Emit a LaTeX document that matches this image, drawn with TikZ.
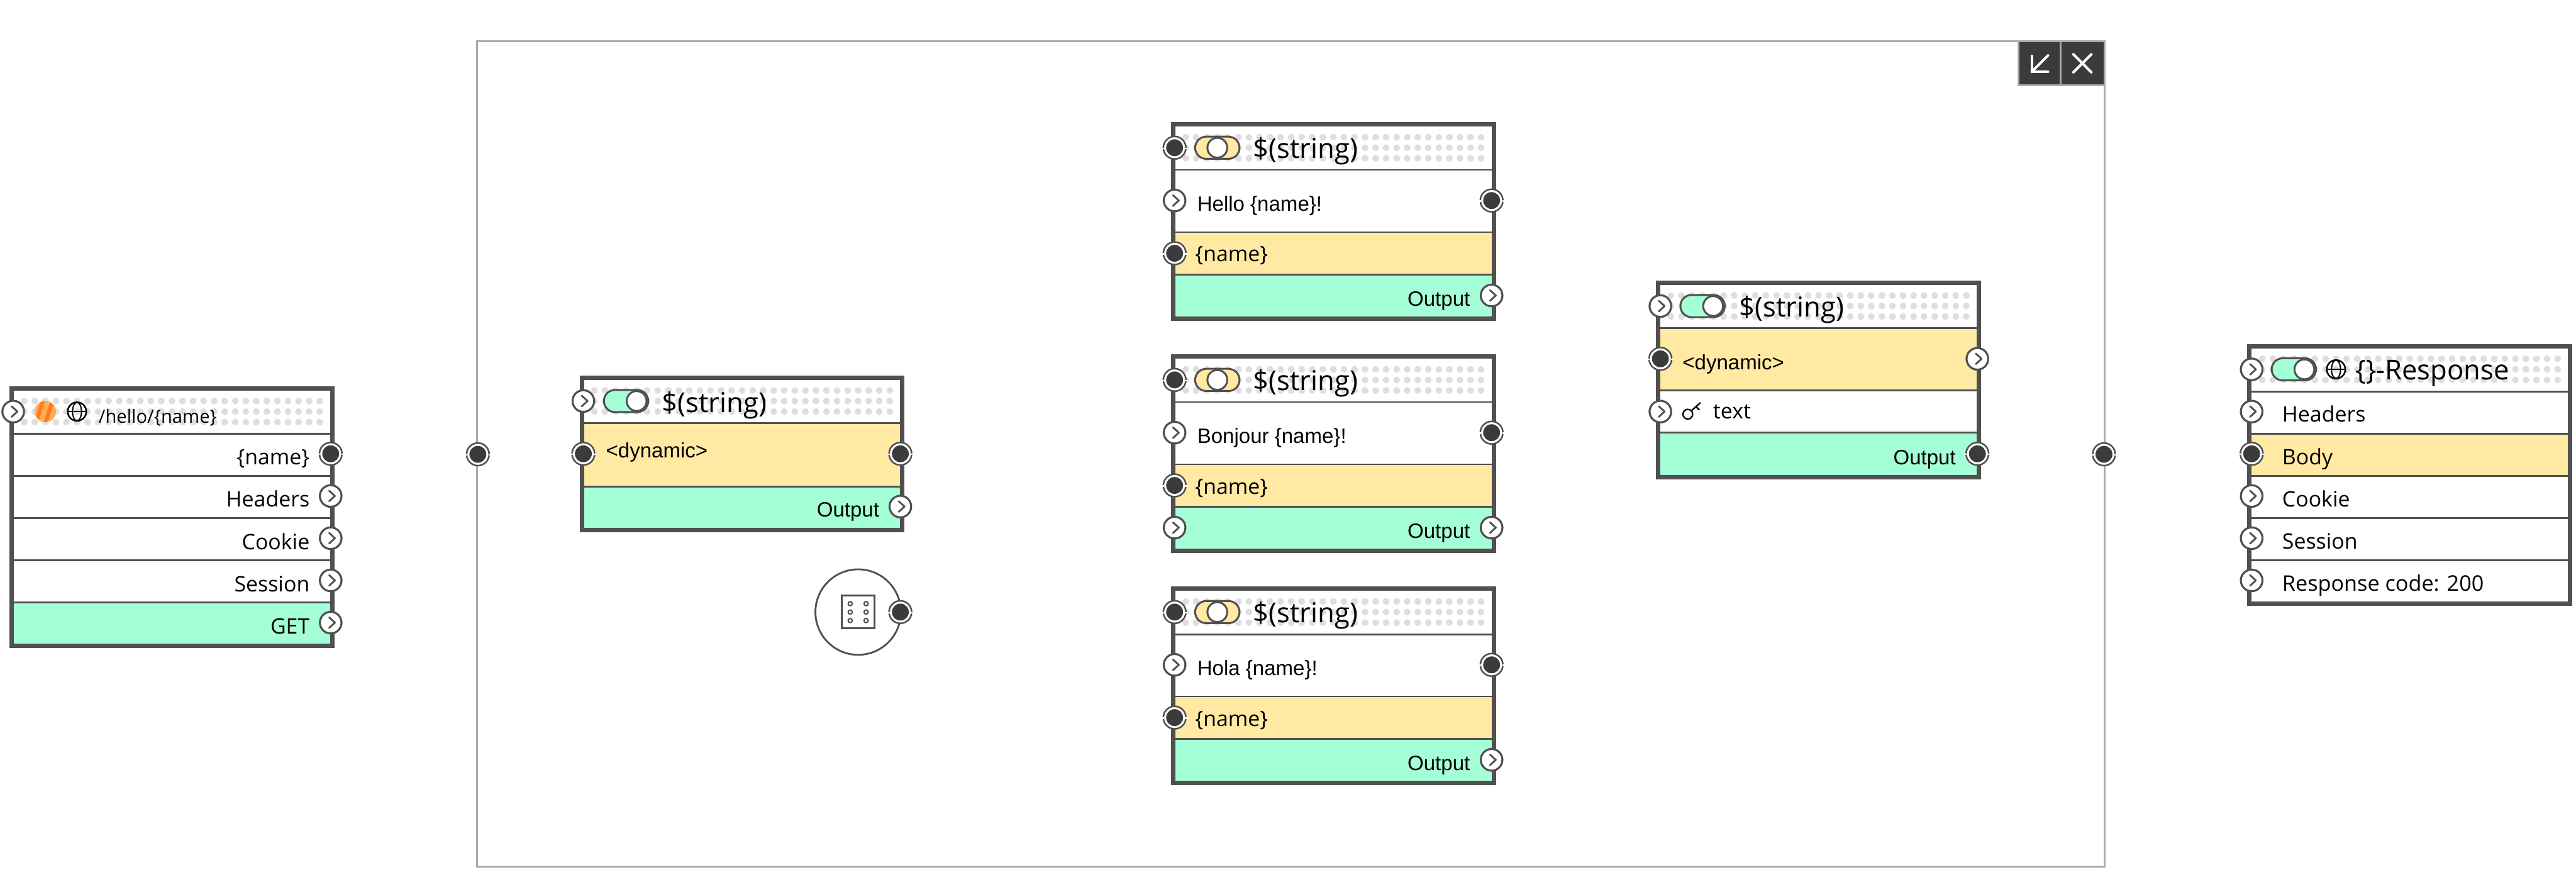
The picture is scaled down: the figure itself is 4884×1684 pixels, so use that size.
\documentclass[tikz,border=0pt]{standalone}
\usepackage{fontspec}
\usetikzlibrary{calc}
\setmainfont{Open Sans}
\newfontfamily\arialf{Liberation Sans}
\definecolor{edge}{HTML}{505050}
\definecolor{dark}{HTML}{3B3B3B}
\definecolor{mint}{HTML}{A5FFD6}
\definecolor{butter}{HTML}{FFE9A3}
\definecolor{speck}{HTML}{DEDEDE}
\definecolor{frameg}{HTML}{AAAAAA}
\definecolor{orgA}{HTML}{FF7A20}
\definecolor{orgB}{HTML}{FFB050}
\tikzset{
  x=0.25pt,y=-0.25pt,
  boxline/.style={draw=edge,line width=2.1pt},
  sepline/.style={draw=edge,line width=0.85pt},
  flowport/.style={circle,draw=edge,fill=white,line width=0.95pt,minimum size=10.25pt,inner sep=0pt,outer sep=0pt},
  dataport/.style={circle,draw=edge,fill=white,line width=0.75pt,minimum size=10.7pt,inner sep=0pt,outer sep=0pt},
  lab/.style={inner sep=0pt,outer sep=0pt,font=\fontsize{10.1}{12}\selectfont,text=black},
  labar/.style={inner sep=0pt,outer sep=0pt,font=\arialf\fontsize{9.85}{12}\selectfont,text=black},
  ttl/.style={inner sep=0pt,outer sep=0pt,font=\fontsize{13}{15}\selectfont,text=black},
  iconline/.style={draw=black,line width=0.75pt},
  knob/.style={circle,draw=edge,fill=white,line width=0.9pt,minimum size=9.4pt,inner sep=0pt},
  btn/.style={draw=frameg,fill=dark,line width=0.9pt},
}
% flow port: name,x,y
\newcommand{\fport}[3]{%
  \node[flowport] (#1) at (#2,#3) {};
  \draw[edge,line width=0.85pt,line cap=round,line join=round]
    ($(#1.center)+(-3,-10)$) -- ($(#1.center)+(8,0)$) -- ($(#1.center)+(-3,10)$);
}
% data port: name,x,y
\newcommand{\dport}[3]{%
  \node[dataport] (#1) at (#2,#3) {};
  \fill[dark] (#1.center) circle (16);
  \draw[white,line width=0.7pt] ($(#1.center)+(20,1)$) -- ($(#1.center)+(25,1)$);
  \draw[white,line width=0.7pt] ($(#1.center)+(-20,1)$) -- ($(#1.center)+(-25,1)$);
}
% header dots: left, centre y
\newcommand{\specks}[2]{%
  \foreach \i in {0,...,28}{
    \fill[speck] ({#1+28+20*\i},{#2-20}) circle (6.4);
    \fill[speck] ({#1+28+20*\i},{#2}) circle (6.4);
    \fill[speck] ({#1+28+20*\i},{#2+20}) circle (6.4);
  }
}
% outer frame: left, top, bottom
\newcommand{\nodeframe}[3]{%
  \draw[boxline] ({#1+4},{#2+4}) rectangle ({#1+612},{#3-4});
}
% row fill: left, y0, y1, colour
\newcommand{\rowfill}[4]{\fill[#4] ({#1+4},#2) rectangle ({#1+612},#3);}
\newcommand{\rowsep}[2]{\draw[sepline] ({#1+6},#2) -- ({#1+610},#2);}
% toggle: name, left, cy, colour, knob x
\newcommand{\toggle}[5]{%
  \draw[edge,fill=#4,line width=0.9pt,rounded corners=5.2pt] (#2,{#3-21}) rectangle ({#2+84},{#3+21});
  \node[knob] (#1) at (#5,#3) {};
}
% globe: name,x,y
\newcommand{\globe}[3]{%
  \node[circle,iconline,minimum size=8.8pt,inner sep=0pt,outer sep=0pt] (#1) at (#2,#3) {};
  \draw[iconline,line width=0.6pt] (#1.west) -- (#1.east);
  \draw[iconline,line width=0.6pt] (#1.center) ellipse (8.5 and 17.5);
}
\newcommand{\stringnode}[4]{%
  % prefix, top, text, extras
  \rowfill{2220}{#2+208}{#2+288}{butter}
  \rowfill{2220}{#2+288}{#2+372}{mint}
  \specks{2220}{#2+48}
  \rowsep{2220}{#2+90}
  \rowsep{2220}{#2+208}
  \rowsep{2220}{#2+288}
  \nodeframe{2220}{#2}{#2+376}
  \toggle{#1K}{2266}{#2+48}{butter}{2308}
  \node[ttl,anchor=base west] (#1T) at (2376,#2+68) {\$(string)};
  \node[labar,anchor=base west] (#1L) at (2270,#2+168) {#3};
  \node[lab,anchor=base west] (#1N) at (2266,#2+264) {\{name\}};
  \node[labar,anchor=base east] (#1O) at (2787,#2+348) {Output};
  \dport{#1p0}{2227}{#2+48}
  \fport{#1p1}{2227}{#2+148}
  \dport{#1p2}{2227}{#2+248}
  #4
  \dport{#1p3}{2828}{#2+148}
  \fport{#1p4}{2828}{#2+328}
}
\begin{document}
\begin{tikzpicture}
\useasboundingbox (0,0) rectangle (4884,1684);
\fill[white] (0,0) rectangle (4884,1684);

% ---- group frame
\node[draw=frameg,line width=0.85pt,anchor=north west,minimum width=771.4pt,minimum height=391pt,inner sep=0pt,outer sep=0pt] (group) at (904.5,78) {};
\draw[btn] (3827,78) rectangle (3907,162);
\draw[btn] (3907,78) rectangle (3990,162);
\coordinate (c1) at (3867,120);
\draw[white,line width=1.2pt,line cap=round,line join=round]
  ($(c1)+(16,-15)$) -- ($(c1)+(-15,16)$);
\draw[white,line width=1.2pt,line cap=round,line join=round]
  ($(c1)+(-15,-14)$) -- ($(c1)+(-15,16)$) -- ($(c1)+(16,16)$);
\coordinate (c2) at (3948,120);
\draw[white,line width=1.2pt,line cap=round] ($(c2)+(-17,-17)$) -- ($(c2)+(17,17)$);
\draw[white,line width=1.2pt,line cap=round] ($(c2)+(-17,17)$) -- ($(c2)+(17,-17)$);
\dport{gl}{906}{861}
\dport{gr}{3989}{861}

% ---- node A : route
\rowfill{18}{1142}{1224}{mint}
\specks{18}{780}
\foreach \yy in {822,902,982,1062,1142}{\rowsep{18}{\yy}}
\nodeframe{18}{732}{1228}
\node[circle,fill=orgA,minimum size=10pt,inner sep=0pt,outer sep=0pt] (ao) at (86,780) {};
\begin{scope}
  \clip (86,780) circle (20);
  \fill[orgB] (71,806) -- (87,754) -- (97,754) -- (81,806) -- cycle;
  \fill[orgB] (89,806) -- (105,754) -- (115,754) -- (99,806) -- cycle;
  \fill[orgB] (53,806) -- (69,754) -- (79,754) -- (63,806) -- cycle;
\end{scope}
\globe{ag}{146}{780}
\node[lab,font=\fontsize{8.7}{11}\selectfont,anchor=base west] (at) at (187,802) {/hello/\{name\}};
\node[lab,anchor=base east] (a1) at (587,881) {\{name\}};
\node[lab,anchor=base east] (a2) at (587,961) {Headers};
\node[lab,anchor=base east] (a3) at (587,1041) {Cookie};
\node[lab,anchor=base east] (a4) at (587,1121) {Session};
\node[lab,anchor=base east] (a5) at (587,1201) {GET};
\fport{ap0}{25}{780}
\dport{ap1}{627}{860}
\fport{ap2}{627}{940}
\fport{ap3}{627}{1020}
\fport{ap4}{627}{1100}
\fport{ap5}{627}{1180}

% ---- node C : dynamic selector
\rowfill{1099}{802}{922}{butter}
\rowfill{1099}{922}{1004}{mint}
\specks{1099}{760}
\rowsep{1099}{802}
\rowsep{1099}{922}
\nodeframe{1099}{712}{1008}
\toggle{cK}{1145}{760}{mint}{1207}
\node[ttl,anchor=base west] (cT) at (1255,781) {\$(string)};
\node[labar,anchor=base west] (c1l) at (1149,867) {<dynamic>};
\node[labar,anchor=base east] (c2l) at (1667,980) {Output};
\fport{cp0}{1106}{760}
\dport{cp1}{1106}{860}
\dport{cp2}{1707}{860}
\fport{cp3}{1707}{960}

% ---- dice
\node[circle,draw=edge,fill=white,line width=0.85pt,minimum size=40.5pt,inner sep=0pt,outer sep=0pt] (dice) at (1627,1160) {};
\node[draw=edge,line width=0.85pt,minimum width=15.5pt,minimum height=15.5pt,inner sep=0pt,outer sep=0pt] (dsq) at (1627,1160) {};
\foreach \dx in {-15,15}\foreach \dy in {-16,0,16}{
  \draw[edge,line width=0.6pt] ($(dsq.center)+(\dx,\dy)$) circle (4);
}
\dport{dip}{1707}{1160}

% ---- node B1..B3
\stringnode{ba}{232}{Hello \{name\}!}{}
\stringnode{bb}{672}{Bonjour \{name\}!}{\fport{bbp5}{2227}{1000}}
\stringnode{bc}{1112}{Hola \{name\}!}{}

% ---- node D
\rowfill{3140}{622}{740}{butter}
\rowfill{3140}{820}{904}{mint}
\specks{3140}{580}
\rowsep{3140}{622}
\rowsep{3140}{740}
\rowsep{3140}{820}
\nodeframe{3140}{532}{908}
\toggle{dK}{3186}{580}{mint}{3248}
\node[ttl,anchor=base west] (dT) at (3298,600) {\$(string)};
\node[labar,anchor=base west] (d1l) at (3190,700) {<dynamic>};
\node[circle,iconline,line width=0.7pt,minimum size=4.6pt,inner sep=0pt,outer sep=0pt] (dkc) at (3200,785) {};
\draw[iconline,line width=0.7pt] (dkc.north east) -- (3224,763);
\draw[iconline,line width=0.7pt] (3215,770) -- (3222,777);
\node[lab,anchor=base west] (d2l) at (3248,794) {text};
\node[labar,anchor=base east] (d3l) at (3708,880) {Output};
\fport{dp0}{3148}{580}
\dport{dp1}{3148}{680}
\fport{dp2}{3749}{680}
\fport{dp3}{3148}{780}
\dport{dp4}{3749}{860}

% ---- node E : response
\rowfill{4261}{822}{902}{butter}
\specks{4261}{700}
\foreach \yy in {742,822,902,982,1062}{\rowsep{4261}{\yy}}
\nodeframe{4261}{652}{1148}
\toggle{eK}{4307}{700}{mint}{4369}
\globe{eg}{4429}{700}
\node[ttl,anchor=base west] (eT) at (4466,720) {\{\}-Response};
\node[lab,anchor=base west] (e1) at (4327,800) {Headers};
\node[lab,anchor=base west] (e2) at (4327,880) {Body};
\node[lab,anchor=base west] (e3) at (4327,960) {Cookie};
\node[lab,anchor=base west] (e4) at (4327,1040) {Session};
\node[lab,anchor=base west,font=\fontsize{10.2}{12}\selectfont] (e5) at (4327,1120) {Response code: 200};
\fport{ep0}{4269}{700}
\fport{ep1}{4269}{780}
\dport{ep2}{4269}{860}
\fport{ep3}{4269}{940}
\fport{ep4}{4269}{1020}
\fport{ep5}{4269}{1100}
\end{tikzpicture}
\end{document}
